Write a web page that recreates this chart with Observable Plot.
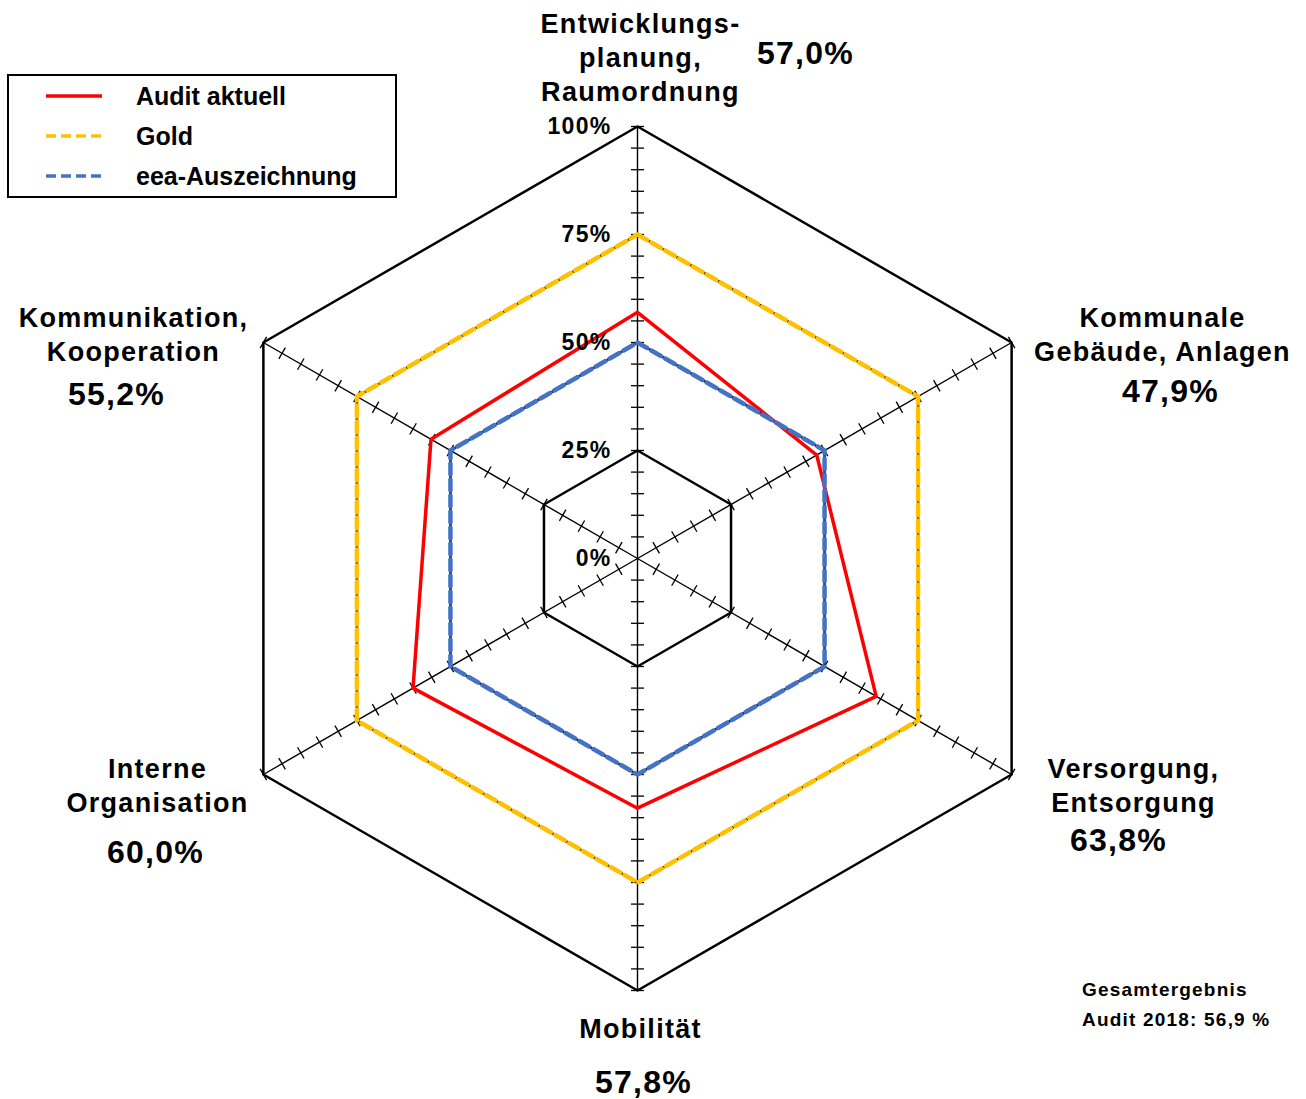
<!DOCTYPE html>
<html><head><meta charset="utf-8">
<script src="https://cdn.jsdelivr.net/npm/d3@7"></script>
<script src="https://cdn.jsdelivr.net/npm/@observablehq/plot@0.6"></script>
<style>
body{margin:0;background:#fff;font-family:"Liberation Sans",Arial,sans-serif;}
#wrap{position:relative;width:1306px;height:1099px;overflow:hidden;background:#fff}
#wrap > svg{position:absolute;left:0;top:0;letter-spacing:1.3px}
#wrap > svg#legend{letter-spacing:0}
#total{position:absolute;left:1082px;top:975px;font-size:19px;font-weight:bold;line-height:30px;letter-spacing:1.2px;color:#000}
</style></head>
<body><div id="wrap"></div>
<script>
// ---- data ----
const categories = ["Entwicklungs-\nplanung,\nRaumordnung","Kommunale\nGebäude, Anlagen","Versorgung,\nEntsorgung","Mobilität","Interne\nOrganisation","Kommunikation,\nKooperation"];
const auditValues = [57.0, 47.9, 63.8, 57.8, 60.0, 55.2];
const goldValues = [75, 75, 75, 75, 75, 75];
const eeaValues = [50, 50, 50, 50, 50, 50];
const gridLevels = [25, 50, 75, 100];
const tickLevels = [0, 25, 50, 75, 100];
const tickLabels = ["0%", "25%", "50%", "75%", "100%"];
const minorStep = 5;
const seriesNames = ["Audit aktuell", "Gold", "eea-Auszeichnung"];
const totalLines = ["Gesamtergebnis", "Audit 2018: 56,9 %"];

// ---- layout ----
const W = 1306, H = 1099, cx = 637, cy = 558, R = 432;
const k = R / 100;
const colors = {audit: "#FF0000", gold: "#FFC000", eea: "#4472C4"};
// label anchors (pixel layout) converted to data units
const catLayout = [[640,56],[1162,333],[1133,784],[640,1027],[157,784],[133,333]];
const valLayout = [[805,53],[1170,391],[1118,840],[643,1082],[155,852],[116,394]];
const toX = px => (px - cx) / k, toY = py => (cy - py) / k;

const n = categories.length;
const ang = i => Math.PI / 2 - i * 2 * Math.PI / n;
const pt = (v, i) => ({x: v * Math.cos(ang(i)), y: v * Math.sin(ang(i)), i, v});

const series = vals => vals.map((v, i) => pt(v, i));
const gridData = gridLevels.flatMap(l => d3.range(n).map(i => ({...pt(l, i), level: l})));
const spokes = d3.range(n).map(i => ({x1: 0, y1: 0, x2: pt(100, i).x, y2: pt(100, i).y}));
const h = 6.5 / k;
const ticks = d3.range(n).flatMap(i => d3.range(minorStep, 100 + 0.01, minorStep).map(v => {
  const p = pt(v, i), a = ang(i);
  const px = -Math.sin(a) * h, py = Math.cos(a) * h;
  return {x1: p.x - px, y1: p.y - py, x2: p.x + px, y2: p.y + py};
}));
const fmt = v => d3.format(".1f")(v).replace(".", ",") + "%";

const chart = Plot.plot({
  width: W, height: H, margin: 0,
  x: {domain: [-cx / k, (W - cx) / k], range: [0, W], axis: null},
  y: {domain: [-(H - cy) / k, cy / k], range: [H, 0], axis: null},
  style: {fontFamily: "'Liberation Sans', Arial, sans-serif", background: "#fff"},
  marks: [
    Plot.link(spokes, {x1: "x1", y1: "y1", x2: "x2", y2: "y2", stroke: "#000", strokeWidth: 1.4}),
    Plot.link(ticks, {x1: "x1", y1: "y1", x2: "x2", y2: "y2", stroke: "#000", strokeWidth: 1.3}),
    Plot.line(gridData, {x: "x", y: "y", z: "level", curve: "linear-closed", stroke: "#000", strokeWidth: 2.5}),
    Plot.line(series(auditValues), {x: "x", y: "y", curve: "linear-closed", stroke: colors.audit, strokeWidth: 3.5}),
    Plot.line(series(goldValues), {x: "x", y: "y", curve: "linear-closed", stroke: colors.gold, strokeWidth: 4.5, strokeDasharray: "11,5"}),
    Plot.line(series(eeaValues), {x: "x", y: "y", curve: "linear-closed", stroke: colors.eea, strokeWidth: 4.5, strokeDasharray: "11,5"}),
    Plot.text(tickLevels, {x: () => 0, y: d => d, text: (d, i) => tickLabels[i], dx: -26, textAnchor: "end", fontSize: 23, fontWeight: "bold", fill: "#000"}),
    Plot.text(categories, {x: (d, i) => toX(catLayout[i][0]), y: (d, i) => toY(catLayout[i][1]), text: d => d, fontSize: 27, fontWeight: "bold", lineHeight: 1.26, fill: "#000"}),
    Plot.text(auditValues, {x: (d, i) => toX(valLayout[i][0]), y: (d, i) => toY(valLayout[i][1]), text: d => fmt(d), fontSize: 32, fontWeight: "bold", fill: "#000"})
  ]
});
const wrap = document.getElementById("wrap");
wrap.appendChild(chart);

// legend
const legendItems = [
  {name: seriesNames[0], color: colors.audit, dash: null},
  {name: seriesNames[1], color: colors.gold, dash: "10,5"},
  {name: seriesNames[2], color: colors.eea, dash: "10,5"}
];
const lg = d3.select(wrap).append("svg").attr("id", "legend").attr("width", 420).attr("height", 220);
lg.append("rect").attr("x", 8).attr("y", 75).attr("width", 388).attr("height", 122).attr("fill", "#fff").attr("stroke", "#000").attr("stroke-width", 2);
legendItems.forEach((d, i) => {
  const y = 96 + i * 40;
  lg.append("line").attr("x1", 46).attr("x2", 102).attr("y1", y).attr("y2", y)
    .attr("stroke", d.color).attr("stroke-width", 3.5).attr("stroke-dasharray", d.dash);
  lg.append("text").attr("x", 136).attr("y", y).attr("dy", "0.35em")
    .attr("font-size", 25).attr("font-weight", "bold").attr("font-family", "'Liberation Sans', Arial, sans-serif")
    .text(d.name);
});

// total result note
d3.select(wrap).append("div").attr("id", "total").html(totalLines.join("<br>"));
</script>
</body></html>
